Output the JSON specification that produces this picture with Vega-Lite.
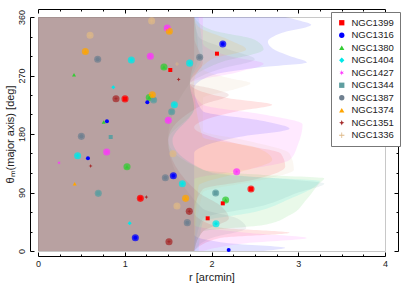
{
  "$schema": "https://vega.github.io/schema/vega-lite/v6.json",
  "width": 347,
  "height": 234,
  "autosize": {"type": "none"},
  "padding": {"left": 38, "top": 17, "right": 22, "bottom": 34},
  "config": {
    "font": "Liberation Sans",
    "view": {"stroke": "#c8c8c8", "strokeWidth": 1},
    "axis": {"labelFont": "Liberation Sans", "labelFontSize": 9, "labelColor": "#222", "titleFont": "Liberation Sans", "titleFontSize": 11, "titleFontWeight": "normal", "titleColor": "#222", "domainColor": "#000", "tickColor": "#000", "grid": false},
    "legend": {"labelFont": "Liberation Sans"}
  },
  "datasets": {
    "bounds": [
      {"g":"NGC1399","t":0,"r":1.8},{"g":"NGC1399","t":20,"r":2.1},{"g":"NGC1399","t":28,"r":2.9},{"g":"NGC1399","t":36,"r":2.1},{"g":"NGC1399","t":60,"r":1.8},{"g":"NGC1399","t":95,"r":1.9},{"g":"NGC1399","t":110,"r":2.5},{"g":"NGC1399","t":130,"r":2.85},{"g":"NGC1399","t":150,"r":2.8},{"g":"NGC1399","t":165,"r":2.3},{"g":"NGC1399","t":190,"r":1.8},{"g":"NGC1399","t":215,"r":2.3},{"g":"NGC1399","t":225,"r":2.7},{"g":"NGC1399","t":235,"r":2.2},{"g":"NGC1399","t":258,"r":1.75},{"g":"NGC1399","t":290,"r":1.9},{"g":"NGC1399","t":330,"r":1.8},{"g":"NGC1399","t":360,"r":1.8},
      {"g":"NGC1316","t":0,"r":2.6},{"g":"NGC1316","t":5,"r":2.85},{"g":"NGC1316","t":12,"r":2.2},{"g":"NGC1316","t":25,"r":1.8},{"g":"NGC1316","t":60,"r":1.8},{"g":"NGC1316","t":100,"r":1.8},{"g":"NGC1316","t":150,"r":1.8},{"g":"NGC1316","t":175,"r":2.3},{"g":"NGC1316","t":188,"r":2.9},{"g":"NGC1316","t":200,"r":2.6},{"g":"NGC1316","t":215,"r":1.9},{"g":"NGC1316","t":250,"r":1.8},{"g":"NGC1316","t":270,"r":2.0},{"g":"NGC1316","t":283,"r":2.6},{"g":"NGC1316","t":290,"r":3.1},{"g":"NGC1316","t":300,"r":2.9},{"g":"NGC1316","t":312,"r":2.7},{"g":"NGC1316","t":322,"r":2.65},{"g":"NGC1316","t":335,"r":2.8},{"g":"NGC1316","t":348,"r":3.15},{"g":"NGC1316","t":355,"r":3.0},{"g":"NGC1316","t":360,"r":2.85},
      {"g":"NGC1380","t":0,"r":1.8},{"g":"NGC1380","t":30,"r":1.9},{"g":"NGC1380","t":40,"r":2.6},{"g":"NGC1380","t":55,"r":2.9},{"g":"NGC1380","t":80,"r":3.1},{"g":"NGC1380","t":105,"r":3.25},{"g":"NGC1380","t":112,"r":3.3},{"g":"NGC1380","t":117,"r":2.6},{"g":"NGC1380","t":125,"r":1.9},{"g":"NGC1380","t":170,"r":1.5},{"g":"NGC1380","t":220,"r":1.8},{"g":"NGC1380","t":258,"r":1.75},{"g":"NGC1380","t":290,"r":2.1},{"g":"NGC1380","t":310,"r":2.6},{"g":"NGC1380","t":325,"r":2.5},{"g":"NGC1380","t":340,"r":2.0},{"g":"NGC1380","t":360,"r":1.8},
      {"g":"NGC1404","t":0,"r":1.85},{"g":"NGC1404","t":45,"r":1.9},{"g":"NGC1404","t":60,"r":2.5},{"g":"NGC1404","t":80,"r":2.9},{"g":"NGC1404","t":100,"r":3.2},{"g":"NGC1404","t":108,"r":3.25},{"g":"NGC1404","t":114,"r":2.5},{"g":"NGC1404","t":125,"r":1.9},{"g":"NGC1404","t":170,"r":1.55},{"g":"NGC1404","t":220,"r":1.8},{"g":"NGC1404","t":258,"r":1.75},{"g":"NGC1404","t":300,"r":1.9},{"g":"NGC1404","t":360,"r":1.85},
      {"g":"NGC1427","t":0,"r":1.9},{"g":"NGC1427","t":12,"r":2.4},{"g":"NGC1427","t":20,"r":3.1},{"g":"NGC1427","t":28,"r":2.4},{"g":"NGC1427","t":40,"r":1.8},{"g":"NGC1427","t":110,"r":1.8},{"g":"NGC1427","t":125,"r":2.4},{"g":"NGC1427","t":140,"r":2.9},{"g":"NGC1427","t":165,"r":3.0},{"g":"NGC1427","t":195,"r":3.05},{"g":"NGC1427","t":210,"r":2.6},{"g":"NGC1427","t":225,"r":1.9},{"g":"NGC1427","t":258,"r":1.75},{"g":"NGC1427","t":275,"r":2.3},{"g":"NGC1427","t":288,"r":2.6},{"g":"NGC1427","t":300,"r":2.2},{"g":"NGC1427","t":320,"r":1.9},{"g":"NGC1427","t":360,"r":1.9},
      {"g":"NGC1344","t":0,"r":1.8},{"g":"NGC1344","t":50,"r":1.9},{"g":"NGC1344","t":70,"r":2.6},{"g":"NGC1344","t":90,"r":3.0},{"g":"NGC1344","t":104,"r":3.3},{"g":"NGC1344","t":110,"r":2.9},{"g":"NGC1344","t":120,"r":2.0},{"g":"NGC1344","t":170,"r":1.55},{"g":"NGC1344","t":220,"r":1.8},{"g":"NGC1344","t":258,"r":1.75},{"g":"NGC1344","t":300,"r":1.85},{"g":"NGC1344","t":360,"r":1.8},
      {"g":"NGC1387","t":0,"r":1.8},{"g":"NGC1387","t":20,"r":2.0},{"g":"NGC1387","t":35,"r":2.4},{"g":"NGC1387","t":50,"r":2.3},{"g":"NGC1387","t":65,"r":1.9},{"g":"NGC1387","t":170,"r":1.5},{"g":"NGC1387","t":258,"r":1.75},{"g":"NGC1387","t":280,"r":2.1},{"g":"NGC1387","t":295,"r":2.5},{"g":"NGC1387","t":310,"r":2.2},{"g":"NGC1387","t":330,"r":1.85},{"g":"NGC1387","t":360,"r":1.8},
      {"g":"NGC1374","t":0,"r":1.8},{"g":"NGC1374","t":100,"r":1.85},{"g":"NGC1374","t":120,"r":2.3},{"g":"NGC1374","t":140,"r":2.7},{"g":"NGC1374","t":160,"r":2.5},{"g":"NGC1374","t":175,"r":1.9},{"g":"NGC1374","t":260,"r":1.8},{"g":"NGC1374","t":295,"r":2.0},{"g":"NGC1374","t":310,"r":2.4},{"g":"NGC1374","t":325,"r":2.2},{"g":"NGC1374","t":345,"r":1.85},{"g":"NGC1374","t":360,"r":1.8},
      {"g":"NGC1351","t":0,"r":1.8},{"g":"NGC1351","t":30,"r":1.9},{"g":"NGC1351","t":50,"r":2.2},{"g":"NGC1351","t":70,"r":2.1},{"g":"NGC1351","t":90,"r":1.85},{"g":"NGC1351","t":170,"r":1.5},{"g":"NGC1351","t":225,"r":1.9},{"g":"NGC1351","t":240,"r":2.2},{"g":"NGC1351","t":250,"r":2.0},{"g":"NGC1351","t":258,"r":1.75},{"g":"NGC1351","t":300,"r":1.8},{"g":"NGC1351","t":360,"r":1.8},
      {"g":"NGC1336","t":0,"r":1.8},{"g":"NGC1336","t":90,"r":1.9},{"g":"NGC1336","t":110,"r":2.6},{"g":"NGC1336","t":125,"r":2.95},{"g":"NGC1336","t":150,"r":2.9},{"g":"NGC1336","t":170,"r":2.4},{"g":"NGC1336","t":185,"r":1.9},{"g":"NGC1336","t":235,"r":1.9},{"g":"NGC1336","t":250,"r":2.3},{"g":"NGC1336","t":258,"r":2.45},{"g":"NGC1336","t":266,"r":2.2},{"g":"NGC1336","t":280,"r":1.9},{"g":"NGC1336","t":360,"r":1.8}
    ],
    "pts": [
      {"g":"NGC1399","r":1.003,"t":234,"big":1},{"g":"NGC1399","r":1.525,"t":278.5,"big":0},{"g":"NGC1399","r":2.063,"t":303.6,"big":0},{"g":"NGC1399","r":1.18,"t":81,"big":1},{"g":"NGC1399","r":2.13,"t":73.3,"big":0},{"g":"NGC1399","r":1.956,"t":50.3,"big":0},{"g":"NGC1399","r":2.455,"t":95.4,"big":1},
      {"g":"NGC1316","r":2.13,"t":318.5,"big":1},{"g":"NGC1316","r":1.26,"t":229,"big":0},{"g":"NGC1316","r":0.795,"t":199.5,"big":0},{"g":"NGC1316","r":0.576,"t":142.6,"big":0},{"g":"NGC1316","r":1.56,"t":115.9,"big":1},{"g":"NGC1316","r":1.122,"t":20.5,"big":1},{"g":"NGC1316","r":2.198,"t":1.5,"big":0},
      {"g":"NGC1380","r":0.415,"t":271,"big":0},{"g":"NGC1380","r":1.452,"t":283,"big":1},{"g":"NGC1380","r":1.283,"t":236,"big":1},{"g":"NGC1380","r":0.757,"t":198.5,"big":0},{"g":"NGC1380","r":1.026,"t":129.7,"big":1},{"g":"NGC1380","r":2.163,"t":78.5,"big":1},
      {"g":"NGC1404","r":1.076,"t":293.8,"big":1},{"g":"NGC1404","r":1.748,"t":289,"big":1},{"g":"NGC1404","r":0.868,"t":251.8,"big":0},{"g":"NGC1404","r":1.572,"t":225,"big":1},{"g":"NGC1404","r":0.457,"t":146.6,"big":1},{"g":"NGC1404","r":1.664,"t":103.5,"big":1},{"g":"NGC1404","r":1.057,"t":42.6,"big":0},{"g":"NGC1404","r":2.052,"t":42,"big":1},
      {"g":"NGC1427","r":1.49,"t":343,"big":1},{"g":"NGC1427","r":1.295,"t":299.5,"big":1},{"g":"NGC1427","r":1.502,"t":201,"big":1},{"g":"NGC1427","r":0.792,"t":152.3,"big":1},{"g":"NGC1427","r":0.242,"t":135.8,"big":0},{"g":"NGC1427","r":2.29,"t":122,"big":1},
      {"g":"NGC1344","r":1.333,"t":232.3,"big":1},{"g":"NGC1344","r":1.541,"t":214.3,"big":1},{"g":"NGC1344","r":0.838,"t":175.4,"big":0},{"g":"NGC1344","r":0.695,"t":88.7,"big":1},{"g":"NGC1344","r":2.048,"t":89.2,"big":1},
      {"g":"NGC1387","r":0.688,"t":294.9,"big":1},{"g":"NGC1387","r":1.864,"t":298,"big":1},{"g":"NGC1387","r":0.5,"t":176.4,"big":1},{"g":"NGC1387","r":1.468,"t":112.8,"big":1},{"g":"NGC1387","r":1.721,"t":43.6,"big":1},
      {"g":"NGC1374","r":0.546,"t":307,"big":1},{"g":"NGC1374","r":1.514,"t":338,"big":1},{"g":"NGC1374","r":1.318,"t":240.5,"big":1},{"g":"NGC1374","r":0.423,"t":103.5,"big":0},{"g":"NGC1374","r":1.702,"t":81,"big":1},
      {"g":"NGC1351","r":0.899,"t":234.3,"big":1},{"g":"NGC1351","r":1.621,"t":264,"big":0},{"g":"NGC1351","r":0.607,"t":130.8,"big":0},{"g":"NGC1351","r":1.249,"t":83,"big":0},{"g":"NGC1351","r":1.744,"t":61,"big":1},{"g":"NGC1351","r":1.51,"t":14.3,"big":1},
      {"g":"NGC1336","r":1.31,"t":354,"big":1},{"g":"NGC1336","r":0.6,"t":332,"big":1},{"g":"NGC1336","r":1.602,"t":287.7,"big":0},{"g":"NGC1336","r":1.556,"t":149.7,"big":1},{"g":"NGC1336","r":1.602,"t":69.2,"big":1}
    ]
  },
  "layer": [
    {
      "data": {"name": "bounds"},
      "mark": {"type": "area", "orient": "horizontal", "opacity": 0.11, "interpolate": "monotone"},
      "encoding": {
        "x": {"field": "r", "type": "quantitative", "stack": null, "scale": {"domain": [0, 4], "nice": false},
          "axis": {"orient": "bottom", "offset": 5, "values": [0,0.25,0.5,0.75,1,1.25,1.5,1.75,2,2.25,2.5,2.75,3,3.25,3.5,3.75,4],
            "labelExpr": "datum.value % 1 === 0 ? '' + datum.value : ''",
            "tickSize": {"condition": {"test": "datum.value % 1 === 0", "value": -4}, "value": -2},
            "labelPadding": 7, "labelFlush": false, "title": "r [arcmin]", "titlePadding": 3}},
        "y": {"field": "t", "type": "quantitative", "scale": {"domain": [0, 360], "nice": false},
          "axis": {"orient": "left", "offset": 8, "values": [0,30,60,90,120,150,180,210,240,270,300,330,360],
            "labelExpr": "datum.value % 90 === 0 ? '' + datum.value : ''",
            "tickSize": {"condition": {"test": "datum.value % 90 === 0", "value": -4}, "value": -2},
            "labelAngle": -90, "labelAlign": "center", "labelBaseline": "bottom", "labelPadding": 8, "labelFlush": false,
            "title": "θₘ(major axis) [deg]", "titlePadding": 2}},
        "color": {"field": "g", "type": "nominal",
          "scale": {"domain": ["NGC1399","NGC1316","NGC1380","NGC1404","NGC1427","NGC1344","NGC1387","NGC1374","NGC1351","NGC1336"],
            "range": ["#ff0000","#0000ff","#33cc33","#00e8e8","#ff33ff","#5f9ea0","#708090","#ffa500","#a52a2a","#deb887"]},
          "legend": null}
      }
    },
    {
      "data": {"name": "pts"},
      "transform": [{"filter": "datum.big == 1"}],
      "mark": {"type": "circle", "size": 50, "opacity": 0.75},
      "encoding": {
        "x": {"field": "r", "type": "quantitative", "scale": {"domain": [0, 4], "nice": false},
          "axis": {"orient": "top", "offset": 8, "values": [0,0.25,0.5,0.75,1,1.25,1.5,1.75,2,2.25,2.5,2.75,3,3.25,3.5,3.75,4], "labels": false, "title": null,
            "tickSize": {"condition": {"test": "datum.value % 1 === 0", "value": -4}, "value": -2}}},
        "y": {"field": "t", "type": "quantitative", "scale": {"domain": [0, 360], "nice": false},
          "axis": {"orient": "right", "offset": 13, "values": [0,30,60,90,120,150,180,210,240,270,300,330,360], "labels": false, "title": null,
            "tickSize": {"condition": {"test": "datum.value % 90 === 0", "value": -4}, "value": -2}}},
        "color": {"field": "g", "type": "nominal", "legend": null}
      }
    },
    {
      "data": {"name": "pts"},
      "mark": {"type": "point", "filled": true, "size": 16, "opacity": 1, "strokeWidth": 0},
      "encoding": {
        "x": {"field": "r", "type": "quantitative", "scale": {"domain": [0, 4], "nice": false}, "axis": null},
        "y": {"field": "t", "type": "quantitative", "scale": {"domain": [0, 360], "nice": false}, "axis": null},
        "color": {"field": "g", "type": "nominal",
          "legend": {"orient": "none", "legendX": 293, "legendY": -5, "title": null, "fillColor": "white", "strokeColor": "#777", "padding": 6, "labelFontSize": 9.5, "labelColor": "#222", "symbolSize": 28, "rowPadding": 1.5, "labelOffset": 5}},
        "shape": {"field": "g", "type": "nominal",
          "scale": {"domain": ["NGC1399","NGC1316","NGC1380","NGC1404","NGC1427","NGC1344","NGC1387","NGC1374","NGC1351","NGC1336"],
            "range": ["square","circle","triangle-up","diamond","M0,-1L0.2,-0.3L0.85,-0.5L0.35,0L0.85,0.5L0.2,0.3L0,1L-0.2,0.3L-0.85,0.5L-0.35,0L-0.85,-0.5L-0.2,-0.3Z","square","circle","triangle-up","M0,-1L0.3,-0.3L1,0L0.3,0.3L0,1L-0.3,0.3L-1,0L-0.3,-0.3Z","M-1,-0.15H-0.15V-1H0.15V-0.15H1V0.15H0.15V1H-0.15V0.15H-1Z"]},
          "legend": {"orient": "none", "legendX": 293, "legendY": -5, "title": null, "fillColor": "white", "strokeColor": "#777", "padding": 6, "labelFontSize": 9.5, "labelColor": "#222", "symbolSize": 28, "rowPadding": 1.5, "labelOffset": 5}}
      }
    }
  ],
  "resolve": {"axis": {"x": "independent", "y": "independent"}, "legend": {"color": "independent", "shape": "independent"}}
}
